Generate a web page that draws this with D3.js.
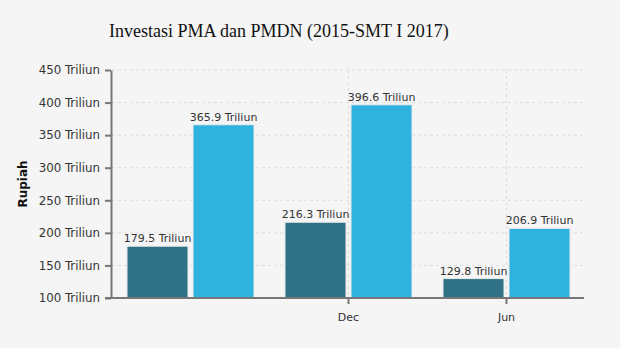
<!DOCTYPE html>
<html><head><meta charset="utf-8">
<script src="https://cdn.jsdelivr.net/npm/d3@7"></script>
<style>body{margin:0;background:#f5f5f5;}svg{display:block;}</style>
</head><body>
<svg id="c" width="620" height="348"></svg>
<script>
const categories = ["2015", "Dec", "Jun"];
const tickLabels = ["", "Dec", "Jun"];
const seriesNames = ["PMA", "PMDN"];
const pma = [179.5, 216.3, 129.8];
const pmdn = [365.9, 396.6, 206.9];
const yTicks = [100, 150, 200, 250, 300, 350, 400, 450];
const colors = ["#2f7285", "#30b2de"];

const svg = d3.select("#c");
svg.append("rect").attr("width", 620).attr("height", 348).attr("fill", "#f5f5f5");

const mLeft = 111, mRight = 584, mTop = 70, mBottom = 298;
const y = d3.scaleLinear().domain([100, 450]).range([mBottom, mTop]);
const x = d3.scalePoint().domain(categories).range([190.5, 506.5]);
const inner = d3.scaleBand().domain(seriesNames).range([-63.5, 63.5]).paddingInner(0.076).paddingOuter(0);

// gridlines
const g = svg.append("g");
g.selectAll("line.hg").data(yTicks.slice(1)).join("line")
  .attr("x1", mLeft + 1).attr("x2", mRight).attr("y1", d => y(d)).attr("y2", d => y(d))
  .attr("stroke", "#dcdcdc").attr("stroke-dasharray", "3,3").attr("stroke-width", 1);
g.selectAll("line.vg").data(categories.filter((c, i) => tickLabels[i])).join("line")
  .attr("x1", d => Math.round(x(d)) - 0.5).attr("x2", d => Math.round(x(d)) - 0.5).attr("y1", mTop).attr("y2", mBottom)
  .attr("stroke", "#dcdcdc").attr("stroke-dasharray", "3,3").attr("stroke-width", 1);

// bars
const data = categories.map((c, i) => ({c, vals: [pma[i], pmdn[i]]}));
const groups = svg.append("g").selectAll("g").data(data).join("g")
  .attr("transform", d => `translate(${x(d.c)},0)`);
groups.selectAll("rect").data(d => d.vals.map((v, j) => ({v, s: seriesNames[j], j}))).join("rect")
  .attr("x", d => inner(d.s)).attr("width", inner.bandwidth())
  .attr("y", d => y(d.v)).attr("height", d => mBottom - y(d.v))
  .attr("fill", d => colors[d.j]).attr("stroke", "#eaeaea").attr("stroke-width", 1);
groups.selectAll("text").data(d => d.vals.map((v, j) => ({v, s: seriesNames[j]}))).join("text")
  .attr("x", d => inner(d.s) + inner.bandwidth() / 2).attr("y", d => y(d.v) - 4)
  .attr("text-anchor", "middle").attr("font-family", "DejaVu Sans, Verdana, sans-serif")
  .attr("font-size", 11).attr("fill", "#333").text(d => d.v.toFixed(1) + " Triliun");

// y axis
const yAxis = d3.axisLeft(y).tickValues(yTicks).tickSize(6).tickSizeOuter(0)
  .tickFormat(d => d + " Triliun");
const ya = svg.append("g").attr("transform", `translate(${mLeft},0)`).call(yAxis);
ya.select(".domain").attr("stroke", "#777").attr("stroke-width", 2);
ya.selectAll(".tick line").attr("stroke", "#777").attr("stroke-width", 2);
ya.selectAll(".tick text").attr("font-family", "DejaVu Sans, Verdana, sans-serif")
  .attr("font-size", 11.8).attr("fill", "#333").attr("dx", -2);

// x axis
const xAxis = d3.axisBottom(x).tickValues(categories.filter((c, i) => tickLabels[i]))
  .tickSize(6).tickSizeOuter(0).tickFormat(d => tickLabels[categories.indexOf(d)]);
const xa = svg.append("g").attr("transform", `translate(0,${mBottom})`).call(xAxis);
xa.select(".domain").attr("d", `M105,0H${mRight}`).attr("stroke", "#777").attr("stroke-width", 2);
xa.selectAll(".tick").attr("transform", d => `translate(${Math.round(x(d)) - 0.5},0)`);
xa.selectAll(".tick line").attr("stroke", "#777").attr("stroke-width", 2);
xa.selectAll(".tick text").attr("font-family", "DejaVu Sans, Verdana, sans-serif")
  .attr("font-size", 11).attr("fill", "#333").attr("dy", "1.3em");

// y label
svg.append("text").attr("transform", "translate(27,184) rotate(-90)")
  .attr("text-anchor", "middle").attr("font-family", "DejaVu Sans, Verdana, sans-serif")
  .attr("font-size", 12).attr("font-weight", "bold").attr("fill", "#111").text("Rupiah");

// title
svg.append("text").attr("x", 109).attr("y", 37)
  .attr("font-family", "Liberation Serif, Times New Roman, serif")
  .attr("font-size", 18).attr("fill", "#111").text("Investasi PMA dan PMDN (2015-SMT I 2017)");
</script>
</body></html>
